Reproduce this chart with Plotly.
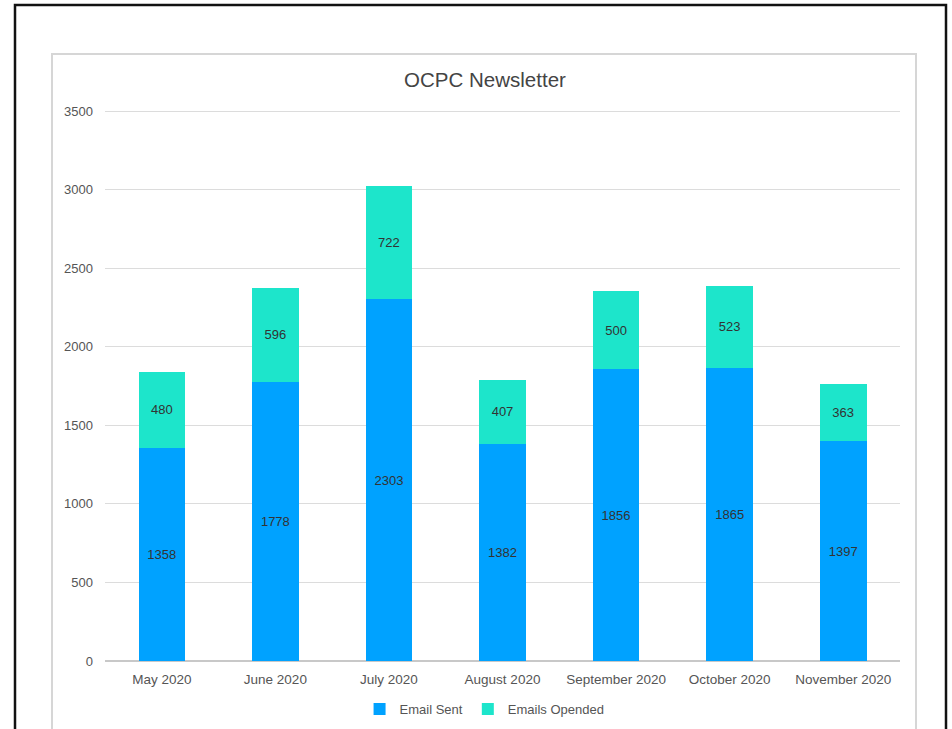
import plotly.graph_objects as go

# Monthly newsletter figures
months = ["May 2020", "June 2020", "July 2020", "August 2020",
          "September 2020", "October 2020", "November 2020"]
emails_sent = [1358, 1778, 2303, 1382, 1856, 1865, 1397]
emails_opened = [480, 596, 722, 407, 500, 523, 363]

y_ticks = [0, 500, 1000, 1500, 2000, 2500, 3000, 3500]

BLUE = "#00A2FF"
TEAL = "#1DE5CB"
FONT = "Liberation Sans, Arial, sans-serif"

W, H = 952, 729
L, R, T, B = 105, 52, 103, 68
pw, ph = W - L - R, H - T - B
# value scale: 3500 units over 550 px; headroom above the top gridline
Y_MAX = 3500 * ph / 550


def px(x):
    return (x - L) / pw


def py(y):
    return (H - B - y) / ph


fig = go.Figure()
fig.add_trace(go.Bar(
    x=months, y=emails_sent, name="Email Sent",
    marker=dict(color=BLUE, line=dict(width=0)),
    text=emails_sent, textposition="inside", insidetextanchor="middle",
    textfont=dict(color="#333333", size=13, family=FONT),
    constraintext="none", width=0.41,
))
fig.add_trace(go.Bar(
    x=months, y=emails_opened, name="Emails Opended",
    marker=dict(color=TEAL, line=dict(width=0)),
    text=emails_opened, textposition="inside", insidetextanchor="middle",
    textfont=dict(color="#333333", size=13, family=FONT),
    constraintext="none", width=0.41,
))

shapes = [
    # outer black frame
    dict(type="rect", xref="paper", yref="paper",
         x0=px(15), x1=px(946), y0=py(760), y1=py(5),
         line=dict(color="#111111", width=2.5), layer="below"),
    # chart panel outline
    dict(type="rect", xref="paper", yref="paper",
         x0=px(52), x1=px(916), y0=py(760), y1=py(54),
         line=dict(color="#d6d6d6", width=2), layer="below"),
]

fig.update_layout(
    width=W, height=H,
    margin=dict(l=L, r=R, t=T, b=B, autoexpand=False),
    barmode="stack",
    paper_bgcolor="white", plot_bgcolor="white",
    font=dict(family=FONT, color="#555555"),
    title=dict(text="OCPC Newsletter", x=px(485), xanchor="center",
               y=1 - 80 / H, yanchor="middle", xref="paper", yref="container",
               font=dict(size=20.5, color="#444444", family=FONT)),
    xaxis=dict(showgrid=False, showline=False, ticks="",
               ticklabelstandoff=8,
               tickfont=dict(size=13.5, color="#555555")),
    yaxis=dict(range=[0, Y_MAX], tickvals=y_ticks, showgrid=True,
               gridcolor="#dcdcdc", gridwidth=1, zeroline=True,
               zerolinecolor="#c8c8c8", zerolinewidth=1.5, ticks="",
               ticklabelstandoff=11,
               tickfont=dict(size=13, color="#555555")),
    legend=dict(orientation="h", x=0.509, xanchor="center", xref="container",
                y=1 - 709 / H, yanchor="middle", yref="container",
                font=dict(size=13, color="#555555"),
                itemwidth=30, traceorder="normal"),
    shapes=shapes,
    showlegend=True,
)

fig.write_html("out.html")
